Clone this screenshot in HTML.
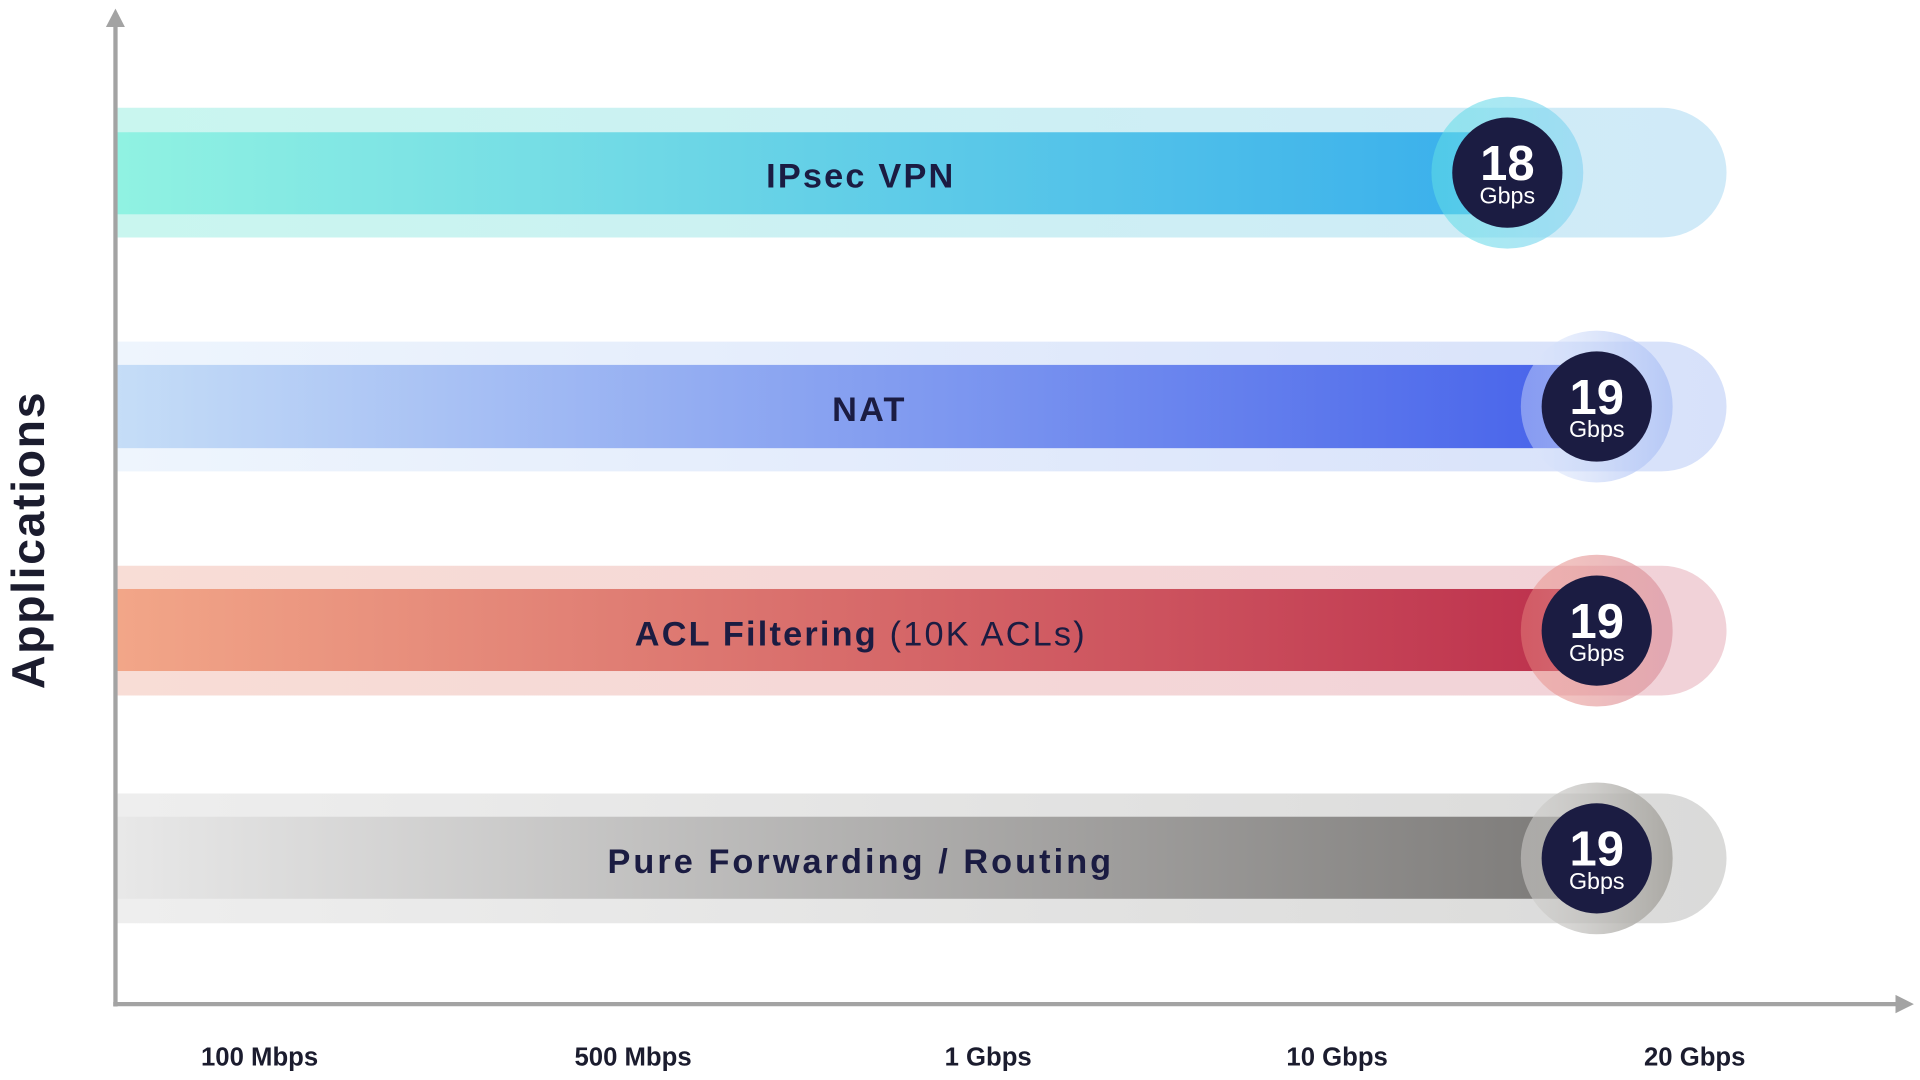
<!DOCTYPE html>
<html><head><meta charset="utf-8"><style>
html,body{margin:0;padding:0;background:#fff;}
svg{display:block;}
text{font-family:"Liberation Sans",sans-serif;}
</style></head><body>
<svg width="1920" height="1080" viewBox="0 0 1568 882" xmlns="http://www.w3.org/2000/svg">
<defs>
<linearGradient id="o1" x1="0" x2="1"><stop offset="0" stop-color="#c9f6ef"/><stop offset="1" stop-color="#d0eaf8"/></linearGradient>
<linearGradient id="i1" x1="0" x2="1"><stop offset="0" stop-color="#90f2e2"/><stop offset="1" stop-color="#38aeec"/></linearGradient>
<linearGradient id="h1" x1="0" x2="1"><stop offset="0" stop-color="#5fdde6" stop-opacity="0.55"/><stop offset="1" stop-color="#8ed6f2" stop-opacity="0.7"/></linearGradient>
<linearGradient id="o2" x1="0" x2="1"><stop offset="0" stop-color="#eef5fd"/><stop offset="1" stop-color="#d7e1fa"/></linearGradient>
<linearGradient id="i2" x1="0" x2="1"><stop offset="0" stop-color="#c5ddf7"/><stop offset="1" stop-color="#4561ea"/></linearGradient>
<linearGradient id="h2" x1="0" x2="1"><stop offset="0" stop-color="#dfe8fb" stop-opacity="0.4"/><stop offset="1" stop-color="#aec2f5" stop-opacity="0.8"/></linearGradient>
<linearGradient id="o3" x1="0" x2="1"><stop offset="0" stop-color="#f8ddd6"/><stop offset="1" stop-color="#f1d2d8"/></linearGradient>
<linearGradient id="i3" x1="0" x2="1"><stop offset="0" stop-color="#f2a688"/><stop offset="1" stop-color="#bc2f4c"/></linearGradient>
<linearGradient id="h3" x1="0" x2="1"><stop offset="0" stop-color="#e98a80" stop-opacity="0.45"/><stop offset="1" stop-color="#dc9aa6" stop-opacity="0.75"/></linearGradient>
<linearGradient id="o4" x1="0" x2="1"><stop offset="0" stop-color="#eeeeee"/><stop offset="1" stop-color="#dadad9"/></linearGradient>
<linearGradient id="i4" x1="0" x2="1"><stop offset="0" stop-color="#e8e8e8"/><stop offset="1" stop-color="#7b7977"/></linearGradient>
<linearGradient id="h4" x1="0" x2="1"><stop offset="0" stop-color="#cfcecc" stop-opacity="0.55"/><stop offset="1" stop-color="#a9a7a2" stop-opacity="0.95"/></linearGradient>
</defs>

<path d="M96 88 H1357 A53 53 0 0 1 1357 194 H96 Z" fill="url(#o1)"/>
<rect x="96" y="108" width="1140" height="67" fill="url(#i1)"/>
<circle cx="1231" cy="141" r="62" fill="url(#h1)"/>
<circle cx="1231" cy="141" r="45" fill="#1b1c42"/>
<text x="1231" y="147" text-anchor="middle" fill="#fff" font-size="40" font-weight="bold">18</text>
<text x="1231" y="166" text-anchor="middle" fill="#fff" font-size="19">Gbps</text>
<text x="703" y="153" text-anchor="middle" fill="#1b1c42" font-size="28" font-weight="bold" letter-spacing="1.8">IPsec VPN</text>

<path d="M96 279 H1357 A53 53 0 0 1 1357 385 H96 Z" fill="url(#o2)"/>
<rect x="96" y="298" width="1208" height="68" fill="url(#i2)"/>
<circle cx="1304" cy="332" r="62" fill="url(#h2)"/>
<circle cx="1304" cy="332" r="45" fill="#1b1c42"/>
<text x="1304" y="338" text-anchor="middle" fill="#fff" font-size="40" font-weight="bold">19</text>
<text x="1304" y="357" text-anchor="middle" fill="#fff" font-size="19">Gbps</text>
<text x="710" y="344" text-anchor="middle" fill="#1b1c42" font-size="28" font-weight="bold" letter-spacing="1.8">NAT</text>

<path d="M96 462 H1357 A53 53 0 0 1 1357 568 H96 Z" fill="url(#o3)"/>
<rect x="96" y="481" width="1208" height="67" fill="url(#i3)"/>
<circle cx="1304" cy="515" r="62" fill="url(#h3)"/>
<circle cx="1304" cy="515" r="45" fill="#1b1c42"/>
<text x="1304" y="521" text-anchor="middle" fill="#fff" font-size="40" font-weight="bold">19</text>
<text x="1304" y="540" text-anchor="middle" fill="#fff" font-size="19">Gbps</text>
<text x="703" y="527" text-anchor="middle" fill="#1b1c42" font-size="28" letter-spacing="1.8"><tspan font-weight="bold">ACL Filtering</tspan> <tspan font-weight="normal" font-size="28">(10K ACLs)</tspan></text>

<path d="M96 648 H1357 A53 53 0 0 1 1357 754 H96 Z" fill="url(#o4)"/>
<rect x="96" y="667" width="1208" height="67" fill="url(#i4)"/>
<circle cx="1304" cy="701" r="62" fill="url(#h4)"/>
<circle cx="1304" cy="701" r="45" fill="#1b1c42"/>
<text x="1304" y="707" text-anchor="middle" fill="#fff" font-size="40" font-weight="bold">19</text>
<text x="1304" y="726" text-anchor="middle" fill="#fff" font-size="19">Gbps</text>
<text x="703" y="713" text-anchor="middle" fill="#1b1c42" font-size="28" font-weight="bold" letter-spacing="2.5">Pure Forwarding / Routing</text>

<line x1="94.3" y1="20" x2="94.3" y2="822" stroke="#a3a3a3" stroke-width="3.5"/>
<polygon points="94.3,7 86.5,22 102,22" fill="#a3a3a3"/>
<line x1="92.5" y1="820" x2="1550" y2="820" stroke="#a3a3a3" stroke-width="3.5"/>
<polygon points="1563,820 1548,812.5 1548,827.5" fill="#a3a3a3"/>

<text transform="translate(36,441) rotate(-90)" text-anchor="middle" fill="#1b1c2e" font-size="38" font-weight="bold" letter-spacing="1.3">Applications</text>

<g font-size="21" font-weight="bold" fill="#1b1c2e" text-anchor="middle">
<text x="212" y="870">100 Mbps</text>
<text x="517" y="870">500 Mbps</text>
<text x="807" y="870">1 Gbps</text>
<text x="1092" y="870">10 Gbps</text>
<text x="1384" y="870">20 Gbps</text>
</g>
</svg>
</body></html>
